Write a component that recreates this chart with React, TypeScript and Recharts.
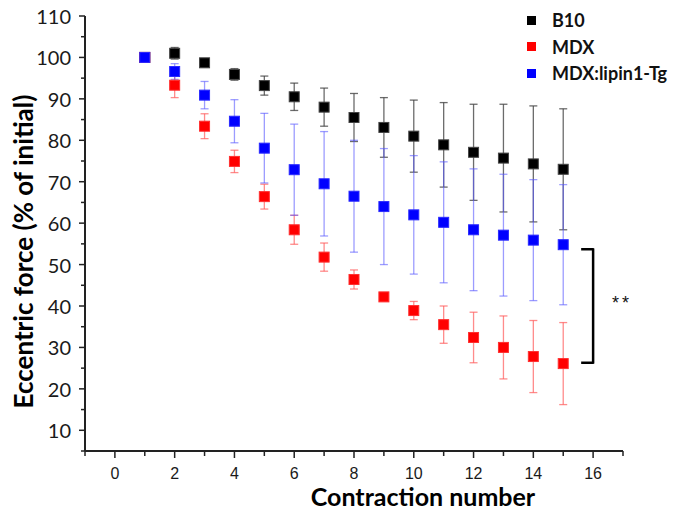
import { ScatterChart, Scatter, XAxis, YAxis, ErrorBar, ReferenceLine, ReferenceDot, Label } from 'recharts';

// contraction number
const contraction = [1, 2, 3, 4, 5, 6, 7, 8, 9, 10, 11, 12, 13, 14, 15];

// eccentric force, % of initial (mean and error)
const b10 = [100, 101.0, 98.7, 95.9, 93.2, 90.5, 88.0, 85.5, 83.1, 81.0, 78.9, 77.1, 75.7, 74.3, 73.0];
const b10Err = [0, 1.4, 0.8, 1.4, 2.3, 3.3, 4.6, 5.8, 7.2, 8.7, 10.2, 11.6, 13.0, 14.0, 14.6];
const mdx = [100, 93.3, 83.4, 74.9, 66.4, 58.4, 51.8, 46.4, 42.2, 38.9, 35.5, 32.4, 30.0, 27.8, 26.1];
const mdxErr = [0, 3.0, 3.0, 2.7, 3.0, 3.5, 3.4, 2.3, 0.8, 2.2, 4.5, 6.1, 7.6, 8.7, 9.9];
const tg = [100, 96.6, 90.9, 84.6, 78.1, 72.9, 69.5, 66.5, 64.0, 62.0, 60.2, 58.4, 57.1, 55.9, 54.8];
const tgErr = [0, 1.9, 3.3, 5.2, 8.4, 11.0, 12.6, 13.5, 14.0, 14.3, 14.6, 14.7, 14.7, 14.6, 14.5];

const xTicks = [-1, 0, 1, 2, 3, 4, 5, 6, 7, 8, 9, 10, 11, 12, 13, 14, 15, 16, 17];
const yTicks = [5, 10, 15, 20, 25, 30, 35, 40, 45, 50, 55, 60, 65, 70, 75, 80, 85, 90, 95, 100, 105, 110];

const toRows = (vals: number[], errs: number[]) =>
  contraction.map((x, i) => ({ x, y: vals[i], err: errs[i] }));

const series = [
  { name: 'B10', color: '#000000', border: '#444444', errColor: 'rgba(70,70,70,0.8)', rows: toRows(b10, b10Err) },
  { name: 'MDX', color: '#ff0000', border: '#ff3030', errColor: 'rgba(255,90,90,0.7)', rows: toRows(mdx, mdxErr) },
  { name: 'MDX:lipin1-Tg', color: '#0000ff', border: '#2a2aff', errColor: 'rgba(90,90,255,0.6)', rows: toRows(tg, tgErr) },
];

const AXIS = '#222';

const square = (fill: string, stroke: string) => (p: any) => (
  <rect x={p.cx - 5} y={p.cy - 5} width={10} height={10} fill={fill} stroke={stroke} strokeWidth={1} />
);

const XTick = ({ x, y, payload }: any) => {
  const v = payload.value;
  const major = v % 2 === 0;
  return (
    <g>
      <line x1={x} x2={x} y1={y} y2={y + (major ? 7 : 5)} stroke={AXIS} strokeWidth={1.5} />
      {major && (
        <text x={x} y={y + 22} textAnchor="middle" dominantBaseline="central"
          fontFamily="'Liberation Sans', Arial, sans-serif" fontSize={16} fill="#1a1a1a">{v}</text>
      )}
    </g>
  );
};

const YTick = ({ x, y, payload }: any) => {
  const v = payload.value;
  const major = v % 10 === 0;
  return (
    <g>
      <line x1={x - (major ? 6 : 4)} x2={x} y1={y} y2={y} stroke={AXIS} strokeWidth={1.5} />
      {major && (
        <text x={x - 14} y={y} textAnchor="end" dominantBaseline="central"
          fontFamily="Lato, sans-serif" fontSize={20} fill="#1a1a1a">{v}</text>
      )}
    </g>
  );
};

const titleStyle = { fontFamily: 'Lato, sans-serif', fontWeight: 700, fill: '#000' };

export default function App() {
  return (
    <div style={{ position: 'absolute', left: 0, top: 0, width: 674, height: 510, background: '#fff' }}>
      <ScatterChart width={674} height={510} margin={{ top: 16, right: 51, bottom: 24, left: 25 }}>
        <XAxis type="number" dataKey="x" domain={[-1, 17]} ticks={xTicks} interval={0}
          height={35} tickSize={0} tickMargin={0} tickLine={false} tick={<XTick />}
          axisLine={{ stroke: AXIS, strokeWidth: 2 }}>
          <Label content={({ viewBox }: any) => (
            <text x={viewBox.x + 338} y={viewBox.y + 54.5} textAnchor="middle" style={{ ...titleStyle, fontSize: 25 }}>
              Contraction number
            </text>
          )} />
        </XAxis>
        <YAxis type="number" dataKey="y" domain={[5, 110]} ticks={yTicks} interval={0}
          width={60} tickSize={0} tickMargin={0} tickLine={false} tick={<YTick />}
          axisLine={{ stroke: AXIS, strokeWidth: 2 }}>
          <Label content={({ viewBox }: any) => (
            <text transform={`translate(${viewBox.x - 2.5},${viewBox.y + viewBox.height / 2 + 18}) rotate(-90)`}
              textAnchor="middle" dominantBaseline="central" style={{ ...titleStyle, fontSize: 26 }}>
              Eccentric force (% of initial)
            </text>
          )} />
        </YAxis>
        {series.map((s) => (
          <Scatter key={s.name} name={s.name} data={s.rows} fill={s.color}
            shape={square(s.color, s.border)} isAnimationActive={false}>
            <ErrorBar dataKey="err" direction="y" width={4} stroke={s.errColor} strokeWidth={1.3} isAnimationActive={false} />
          </Scatter>
        ))}
        <ReferenceLine segment={[{ x: 15.6, y: 53.7 }, { x: 16.02, y: 53.7 }]} stroke="#000" strokeWidth={2.5} />
        <ReferenceLine segment={[{ x: 16.0, y: 53.9 }, { x: 16.0, y: 26.1 }]} stroke="#000" strokeWidth={2.5} />
        <ReferenceLine segment={[{ x: 15.6, y: 26.3 }, { x: 16.02, y: 26.3 }]} stroke="#000" strokeWidth={2.5} />
        <ReferenceDot x={16.92} y={41.6} r={1} fill="none" stroke="none"
          label={(p: any) => (
            <text x={p.viewBox.x + p.viewBox.width / 2 + 1.5} y={p.viewBox.y + p.viewBox.height / 2 + 10}
              textAnchor="middle" letterSpacing={3} fontFamily="'Liberation Sans', Arial, sans-serif" fontSize={18} fill="#111">**</text>
          )} />
      </ScatterChart>
      <div style={{ position: 'absolute', left: 527, top: 7, fontFamily: 'Lato, sans-serif', fontWeight: 700, fontSize: 18, color: '#111' }}>
        {series.map((s) => (
          <div key={s.name} style={{ display: 'flex', alignItems: 'center', height: 26.5 }}>
            <span style={{ width: 9, height: 9, background: s.color, display: 'inline-block', marginRight: 16 }} />
            <span>{s.name}</span>
          </div>
        ))}
      </div>
    </div>
  );
}
